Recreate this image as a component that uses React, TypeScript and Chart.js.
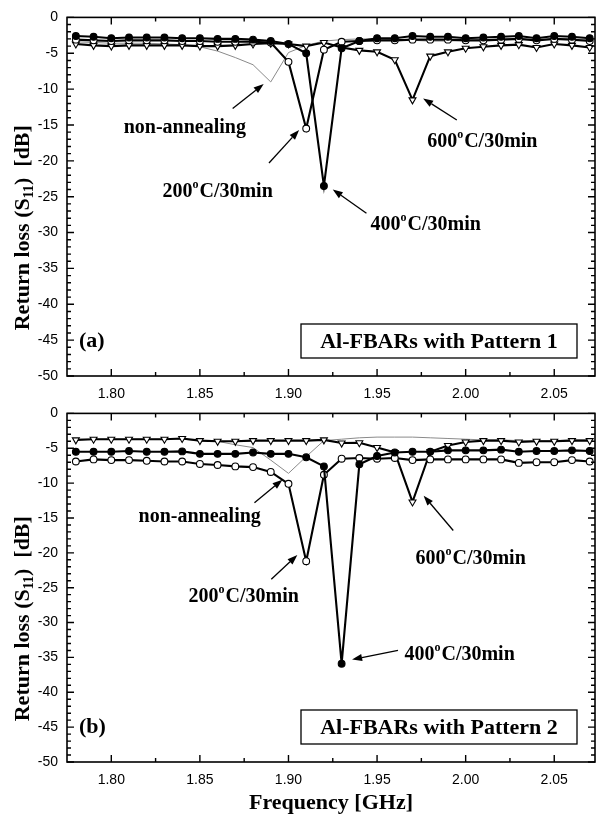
import { useEffect, useRef } from 'react';
import { Chart, registerables } from 'chart.js';

Chart.register(...registerables);

// Frequency sweep, GHz
const frequencyGHz = [
  1.78, 1.79, 1.8, 1.81, 1.82, 1.83, 1.84, 1.85, 1.86, 1.87,
  1.88, 1.89, 1.9, 1.91, 1.92, 1.93, 1.94, 1.95, 1.96, 1.97,
  1.98, 1.99, 2.0, 2.01, 2.02, 2.03, 2.04, 2.05, 2.06, 2.07,
];

const xTickValues = [1.8, 1.85, 1.9, 1.95, 2.0, 2.05];
const xTickLabels = ['1.80', '1.85', '1.90', '1.95', '2.00', '2.05'];
const xMinorTickValues = [1.825, 1.875, 1.925, 1.975, 2.025];
const yTickValues = [-50, -45, -40, -35, -30, -25, -20, -15, -10, -5, 0];
const yTickLabels = ['-50', '-45', '-40', '-35', '-30', '-25', '-20', '-15', '-10', '-5', '0'];

// Pattern 1: return loss S11, dB
const p1NonAnnealing = [
  -3.4, -3.5, -3.6, -3.6, -3.6, -3.7, -3.8, -4.1, -4.7, -5.6,
  -6.6, -9.0, -4.9, -3.9, -3.3, -3.1, -3.0, -3.0, -3.1, -3.2,
  -3.3, -3.3, -3.2, -3.1, -3.0, -3.0, -3.1, -3.0, -3.0, -3.1,
];
const p1Anneal200 = [
  -3.1, -3.2, -3.3, -3.2, -3.2, -3.2, -3.3, -3.3, -3.4, -3.4,
  -3.4, -3.5, -6.2, -15.5, -4.5, -3.4, -3.3, -3.2, -3.2, -3.1,
  -3.1, -3.1, -3.2, -3.2, -3.1, -3.0, -3.2, -3.0, -3.1, -3.3,
];
const p1Anneal400 = [
  -2.6, -2.7, -2.9, -2.8, -2.8, -2.8, -2.9, -2.9, -3.0, -3.0,
  -3.1, -3.3, -3.7, -5.0, -23.5, -4.3, -3.3, -2.9, -2.9, -2.6,
  -2.7, -2.7, -2.9, -2.8, -2.7, -2.6, -2.9, -2.6, -2.7, -2.9,
];
const p1Anneal600 = [
  -3.7, -3.9, -4.0, -3.9, -3.9, -3.9, -3.9, -4.0, -4.0, -3.9,
  -3.7, -3.6, -3.7, -4.0, -3.5, -4.2, -4.6, -4.8, -5.9, -11.5,
  -5.4, -4.8, -4.3, -4.1, -3.9, -3.8, -4.2, -3.7, -3.9, -4.2,
];

// Pattern 2: return loss S11, dB
const p2NonAnnealing = [
  -3.8, -3.7, -3.7, -3.7, -3.7, -3.7, -3.7, -3.9, -4.0, -4.5,
  -4.9, -6.7, -8.6, -6.2, -3.9, -3.7, -3.5, -3.4, -3.4, -3.4,
  -3.5, -3.6, -3.7, -3.8, -3.8, -3.9, -3.9, -3.9, -3.8, -3.8,
];
const p2Anneal200 = [
  -6.9, -6.6, -6.7, -6.7, -6.8, -6.9, -6.9, -7.25, -7.4, -7.6,
  -7.7, -8.4, -10.1, -21.2, -8.8, -6.5, -6.4, -6.5, -6.4, -6.7,
  -6.6, -6.6, -6.6, -6.6, -6.6, -7.1, -7.0, -7.0, -6.7, -6.9,
];
const p2Anneal400 = [
  -5.5, -5.5, -5.5, -5.4, -5.5, -5.5, -5.45, -5.8, -5.8, -5.8,
  -5.6, -5.8, -5.8, -6.3, -7.6, -35.9, -7.3, -6.1, -5.6, -5.5,
  -5.5, -5.3, -5.3, -5.3, -5.2, -5.5, -5.4, -5.4, -5.3, -5.4,
];
const p2Anneal600 = [
  -3.8, -3.7, -3.7, -3.7, -3.7, -3.7, -3.6, -3.9, -4.0, -4.0,
  -3.9, -3.9, -3.9, -3.9, -3.8, -4.25, -4.2, -4.9, -5.6, -12.7,
  -5.5, -4.6, -4.1, -3.9, -3.9, -4.1, -4.0, -4.0, -3.9, -3.9,
];

type Part = { t: string; sup?: boolean };
type Note = { parts: Part[]; at: [number, number]; tail: [number, number]; head: [number, number] };

const deg = (t: string): Part[] => [{ t }, { t: 'o', sup: true }, { t: 'C/30min' }];

const pattern1Notes: Note[] = [
  { parts: [{ t: 'non-annealing' }], at: [1.8415, -15.2], tail: [1.8685, -12.7], head: [1.886, -9.3] },
  { parts: deg('200'), at: [1.86, -24.1], tail: [1.889, -20.3], head: [1.906, -15.7] },
  { parts: deg('400'), at: [1.9775, -28.7], tail: [1.944, -27.3], head: [1.925, -24.0] },
  { parts: deg('600'), at: [2.0094, -17.1], tail: [1.995, -14.3], head: [1.976, -11.3] },
];
const pattern2Notes: Note[] = [
  { parts: [{ t: 'non-annealing' }], at: [1.8499, -14.7], tail: [1.8808, -12.8], head: [1.8966, -9.5] },
  { parts: deg('200'), at: [1.8747, -26.1], tail: [1.8903, -23.8], head: [1.905, -20.3] },
  { parts: deg('400'), at: [1.9966, -34.4], tail: [1.9618, -34.0], head: [1.9359, -35.3] },
  { parts: deg('600'), at: [2.0028, -20.6], tail: [1.993, -16.8], head: [1.9763, -11.8] },
];

const SERIF = '"Liberation Serif", "Times New Roman", serif';
const SANS = '"Liberation Sans", Arial, sans-serif';

function drawParts(ctx: CanvasRenderingContext2D, parts: Part[], cx: number, cy: number, size: number) {
  const main = `bold ${size}px ${SERIF}`;
  const small = `bold ${Math.round(size * 0.6)}px ${SERIF}`;
  let total = 0;
  const widths = parts.map((p) => {
    ctx.font = p.sup ? small : main;
    const w = ctx.measureText(p.t).width + (p.sup ? 1 : 0);
    total += w;
    return w;
  });
  let x = cx - total / 2;
  ctx.textBaseline = 'alphabetic';
  ctx.textAlign = 'left';
  const base = cy + size * 0.33;
  parts.forEach((p, i) => {
    ctx.font = p.sup ? small : main;
    ctx.fillText(p.t, x, p.sup ? base - size * 0.45 : base);
    x += widths[i];
  });
}

function drawArrow(ctx: CanvasRenderingContext2D, x0: number, y0: number, x1: number, y1: number) {
  const ang = Math.atan2(y1 - y0, x1 - x0);
  const len = 10;
  const half = 3.6;
  const bx = x1 - len * Math.cos(ang);
  const by = y1 - len * Math.sin(ang);
  ctx.beginPath();
  ctx.moveTo(x0, y0);
  ctx.lineTo(bx, by);
  ctx.lineWidth = 1.3;
  ctx.stroke();
  ctx.beginPath();
  ctx.moveTo(x1, y1);
  ctx.lineTo(bx + half * Math.sin(ang), by - half * Math.cos(ang));
  ctx.lineTo(bx - half * Math.sin(ang), by + half * Math.cos(ang));
  ctx.closePath();
  ctx.fill();
}

const decorPlugin = {
  id: 'decor',
  afterDatasetsDraw(chart: any, _args: any, opts: any) {
    const { ctx, chartArea: a } = chart;
    const xs = chart.scales.x;
    const ys = chart.scales.y;
    ctx.save();
    ctx.strokeStyle = '#000';
    ctx.fillStyle = '#000';

    // frame
    ctx.lineWidth = 1.6;
    ctx.strokeRect(a.left, a.top, a.right - a.left, a.bottom - a.top);

    // inward tick marks on all four sides
    ctx.lineWidth = 1.4;
    ctx.beginPath();
    const xt = (v: number, len: number) => {
      const px = xs.getPixelForValue(v);
      ctx.moveTo(px, a.bottom);
      ctx.lineTo(px, a.bottom - len);
      ctx.moveTo(px, a.top);
      ctx.lineTo(px, a.top + len);
    };
    xTickValues.forEach((v) => xt(v, 7));
    xMinorTickValues.forEach((v) => xt(v, 4));
    for (let v = -50; v <= 0; v += 1) {
      const len = v % 5 === 0 ? 7 : 4;
      const py = ys.getPixelForValue(v);
      ctx.moveTo(a.left, py);
      ctx.lineTo(a.left + len, py);
      ctx.moveTo(a.right, py);
      ctx.lineTo(a.right - len, py);
    }
    ctx.stroke();

    // labelled arrows
    (opts.notes as Note[]).forEach((n) => {
      drawArrow(
        ctx,
        xs.getPixelForValue(n.tail[0]), ys.getPixelForValue(n.tail[1]),
        xs.getPixelForValue(n.head[0]), ys.getPixelForValue(n.head[1]),
      );
      drawParts(ctx, n.parts, xs.getPixelForValue(n.at[0]), ys.getPixelForValue(n.at[1]), 20);
    });

    // legend box
    const bw = 276;
    const bh = 34;
    const bx = a.right - 18 - bw;
    const by = a.bottom - 18 - bh;
    ctx.lineWidth = 1.3;
    ctx.strokeRect(bx, by, bw, bh);
    drawParts(ctx, [{ t: opts.boxText }], bx + bw / 2, by + bh / 2, 22);

    // panel letter
    ctx.font = `bold 22px ${SERIF}`;
    ctx.textAlign = 'left';
    ctx.textBaseline = 'middle';
    ctx.fillText(opts.letter, a.left + 12, by + bh / 2);

    // y axis title with subscript
    const size = 22;
    const main = `bold ${size}px ${SERIF}`;
    const sub = `bold ${Math.round(size * 0.62)}px ${SERIF}`;
    const segs: Part[] = [{ t: 'Return loss (S' }, { t: '11', sup: true }, { t: ')  [dB]' }];
    let total = 0;
    const ws = segs.map((s) => {
      ctx.font = s.sup ? sub : main;
      const w = ctx.measureText(s.t).width;
      total += w;
      return w;
    });
    ctx.save();
    ctx.translate(22, (a.top + a.bottom) / 2 + 31);
    ctx.rotate(-Math.PI / 2);
    ctx.textBaseline = 'alphabetic';
    let sx = -total / 2;
    segs.forEach((s, i) => {
      ctx.font = s.sup ? sub : main;
      ctx.fillText(s.t, sx, s.sup ? 7 + 4 : 7);
      sx += ws[i];
    });
    ctx.restore();

    if (opts.xTitle) {
      ctx.font = `bold 22px ${SERIF}`;
      ctx.textAlign = 'center';
      ctx.textBaseline = 'middle';
      ctx.fillText(opts.xTitle, (a.left + a.right) / 2, opts.xTitleY);
    }
    ctx.restore();
  },
};

const pts = (vals: number[]) => frequencyGHz.map((f, i) => ({ x: f, y: vals[i] }));

function buildConfig(
  series: { non: number[]; a200: number[]; a400: number[]; a600: number[] },
  padTop: number,
  xHeight: number,
  decor: any,
): any {
  const marker = { pointBorderColor: '#000', pointBorderWidth: 1.1, borderColor: '#000', borderWidth: 2.1 };
  return {
    type: 'line',
    data: {
      datasets: [
        { label: '400°C/30min', data: pts(series.a400), ...marker, pointStyle: 'circle', pointRadius: 3.4, pointBackgroundColor: '#000' },
        { label: '200°C/30min', data: pts(series.a200), ...marker, pointStyle: 'circle', pointRadius: 3.4, pointBackgroundColor: '#fff' },
        { label: '600°C/30min', data: pts(series.a600), ...marker, pointStyle: 'triangle', pointRotation: 180, pointRadius: 4, pointBackgroundColor: '#fff' },
        { label: 'non-annealing', data: pts(series.non), borderColor: '#8a8a8a', borderWidth: 1, pointRadius: 0 },
      ],
    },
    options: {
      responsive: false,
      animation: false,
      events: [],
      layout: { padding: { top: padTop, right: 6, left: 0, bottom: 0 } },
      plugins: { legend: { display: false }, tooltip: { enabled: false }, decor },
      scales: {
        x: {
          type: 'linear',
          min: 1.775,
          max: 2.073,
          grid: { display: false, drawTicks: false },
          border: { display: false },
          ticks: {
            padding: 10,
            color: '#000',
            font: { family: SANS, size: 14 },
            autoSkip: false,
            maxRotation: 0,
            callback: (_v: any, i: number) => xTickLabels[i],
          },
          afterBuildTicks: (s: any) => {
            s.ticks = xTickValues.map((value) => ({ value }));
          },
          afterFit: (s: any) => {
            s.height = xHeight;
          },
        },
        y: {
          type: 'linear',
          min: -50,
          max: 0,
          grid: { display: false, drawTicks: false },
          border: { display: false },
          ticks: {
            padding: 9,
            color: '#000',
            font: { family: SANS, size: 14 },
            autoSkip: false,
            callback: (_v: any, i: number) => yTickLabels[i],
          },
          afterBuildTicks: (s: any) => {
            s.ticks = yTickValues.map((value) => ({ value }));
          },
          afterFit: (s: any) => {
            s.width = 67;
          },
        },
      },
    },
    plugins: [decorPlugin],
  };
}

export default function App() {
  const topRef = useRef<HTMLCanvasElement>(null);
  const bottomRef = useRef<HTMLCanvasElement>(null);

  useEffect(() => {
    const top = new Chart(
      topRef.current!,
      buildConfig(
        { non: p1NonAnnealing, a200: p1Anneal200, a400: p1Anneal400, a600: p1Anneal600 },
        17,
        24,
        { notes: pattern1Notes, boxText: 'Al-FBARs with Pattern 1', letter: '(a)' },
      ),
    );
    const bottom = new Chart(
      bottomRef.current!,
      buildConfig(
        { non: p2NonAnnealing, a200: p2Anneal200, a400: p2Anneal400, a600: p2Anneal600 },
        6,
        52,
        { notes: pattern2Notes, boxText: 'Al-FBARs with Pattern 2', letter: '(b)', xTitle: 'Frequency [GHz]', xTitleY: 407 },
      ),
    );
    return () => {
      top.destroy();
      bottom.destroy();
    };
  }, []);

  return (
    <div style={{ position: 'absolute', left: 0, top: 0, width: 601, height: 814, background: '#fff' }}>
      <canvas ref={topRef} width={601} height={400} style={{ position: 'absolute', left: 0, top: 0 }} />
      <canvas ref={bottomRef} width={601} height={418} style={{ position: 'absolute', left: 0, top: 396 }} />
    </div>
  );
}
